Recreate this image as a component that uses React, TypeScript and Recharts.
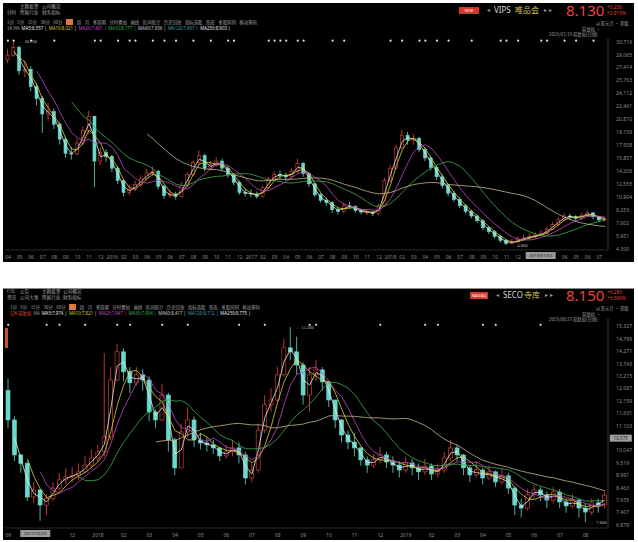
import React from 'react';
import { ComposedChart, Bar, Line, XAxis, YAxis, ReferenceDot } from 'recharts';

// ---- VIPS 唯品会, 2015-04 .. 2019-07, two bars per month ----
const vipsMonths = [
  '04', '05', '06', '07', '08', '09', '10', '11', '12',
  '2016', '02', '03', '04', '05', '06', '07', '08', '09', '10', '11', '12',
  '2017', '02', '03', '04', '05', '06', '07', '08', '09', '10', '11', '12',
  '2018', '02', '03', '04', '05', '06', '07', '08', '09', '10', '11', '12',
  '2019', '02', '03', '04', '05', '06', '07',
];
const vipsFirstOpen = 28.4;
const vipsClose = [
  29.0, 30.0, 27.0, 27.2, 25.0, 23.5, 21.5, 21.8, 20.2, 18.3,
  16.5, 16.4, 17.8, 19.4, 21.2, 15.5, 16.6, 16.1, 14.6, 13.0,
  11.5, 11.9, 12.5, 13.3, 14.0, 14.2, 12.3, 11.1, 11.3, 11.0,
  12.4, 13.8, 15.3, 16.2, 14.6, 15.0, 15.5, 14.6, 13.8, 12.8,
  11.5, 11.4, 11.3, 11.0, 12.1, 13.2, 13.8, 13.7, 13.5, 14.2,
  15.2, 13.9, 12.6, 11.2, 10.5, 10.2, 9.3, 9.1, 9.8, 9.7,
  9.2, 9.0, 9.0, 8.8, 9.8, 13.0, 14.6, 17.2, 18.8, 18.2,
  18.4, 17.0, 15.9, 14.7, 13.5, 12.4, 11.4, 10.6, 9.8, 9.1,
  8.5, 7.9, 7.0, 6.5, 5.9, 5.4, 5.0, 5.2, 5.5, 5.7,
  5.9, 6.0, 6.3, 6.8, 7.4, 8.0, 8.5, 8.4, 8.2, 8.6,
  8.9, 8.4, 8.0, 8.13,
];
const vipsHigh = [
  29.8, 30.7, 30.2, 28.3, 27.6, 25.4, 23.8, 22.9, 22.2, 20.5,
  18.6, 17.3, 18.4, 19.9, 21.9, 21.3, 17.2, 17.0, 16.3, 14.9,
  13.2, 12.5, 13.0, 13.7, 14.5, 14.8, 14.4, 12.5, 11.8, 11.6,
  12.8, 14.1, 15.6, 16.9, 16.4, 15.5, 16.0, 15.8, 14.9, 14.0,
  13.0, 12.0, 11.9, 11.6, 12.4, 13.5, 14.2, 14.3, 14.0, 14.6,
  15.8, 15.4, 14.1, 12.8, 11.4, 10.8, 10.4, 9.6, 10.2, 10.3,
  9.9, 9.4, 9.4, 9.2, 10.1, 13.4, 15.0, 17.6, 19.5, 19.2,
  19.0, 18.6, 17.3, 16.1, 14.9, 13.8, 12.6, 11.7, 10.9, 10.0,
  9.3, 8.7, 8.1, 7.2, 6.7, 6.1, 5.6, 5.6, 5.9, 6.1,
  6.3, 6.4, 6.7, 7.1, 7.7, 8.3, 8.9, 8.8, 8.6, 8.9,
  9.2, 9.0, 8.5, 8.3,
];
const vipsLow = [
  28.0, 28.8, 26.5, 26.2, 24.4, 22.6, 19.1, 20.6, 19.6, 17.6,
  15.9, 15.7, 16.2, 17.5, 19.0, 12.2, 15.0, 15.4, 14.1, 12.6,
  11.0, 11.1, 11.7, 12.2, 13.0, 13.6, 11.9, 10.7, 10.8, 10.6,
  10.9, 12.2, 13.6, 15.0, 14.2, 14.3, 14.8, 14.2, 13.4, 12.4,
  11.2, 11.0, 10.9, 10.7, 10.9, 11.9, 13.0, 13.2, 13.0, 13.3,
  14.0, 13.5, 12.2, 10.9, 10.2, 9.8, 8.9, 8.7, 8.9, 9.4,
  8.9, 8.7, 8.6, 8.5, 8.6, 9.7, 12.8, 14.4, 17.0, 17.6,
  17.6, 16.7, 15.5, 14.3, 13.1, 12.0, 11.0, 10.3, 9.5, 8.8,
  8.2, 7.6, 6.7, 6.2, 5.6, 5.1, 4.8, 4.9, 5.1, 5.3,
  5.5, 5.6, 5.9, 6.2, 6.7, 7.2, 7.8, 8.0, 7.9, 8.0,
  8.4, 8.1, 7.7, 7.8,
];
const vipsYTicks = [
  30.716, 29.065, 27.414, 25.763, 24.112, 22.461, 20.81, 19.159, 17.508,
  15.857, 14.206, 12.555, 10.904, 9.253, 7.602, 5.951, 4.3,
];
const vipsEvents = [
  0, 1, 4, 8, 15, 16, 19, 21, 22, 25, 27, 29, 32, 35, 38, 39, 45, 46, 47, 48,
  50, 51, 56, 58, 66, 68, 71, 72, 74, 76, 80, 85, 86, 88, 92, 93, 96, 98, 101,
];
const vipsLegend = [
  ['MA5:8.557', '#e6e6e6'], ['MA10:8.021', '#d8d03a'], ['MA20:7.861', '#c24ac2'],
  ['MA30:8.177', '#3fae4f'], ['MA60:7.936', '#cfcfcf'], ['MA120:7.457', '#3fa7b3'],
  ['MA250:8.903', '#e6e6e6'],
];
// crosshair date box on the time axis (it hides the month labels beneath it)
const vipsCross = { idx: 90, text: '2019/01/03', dx: -4, hide: [89, 95] };

// ---- SECO 寺库, 2017-09 .. 2019-08, four bars per month (Sep partial) ----
const secoMonths = [
  '09', '10', '11', '12',
  '2018', '02', '03', '04', '05', '06', '07', '08', '09', '10', '11', '12',
  '2019', '02', '03', '04', '05', '06', '07', '08',
];
const secoFirstOpen = 12.6;
const secoClose = [
  11.35, 9.86, 9.5, 8.07, 8.37, 7.73, 8.0, 8.45, 8.8, 8.92,
  9.0, 9.14, 9.43, 9.73, 9.99, 10.63, 13.05, 14.25, 13.4, 12.93,
  13.27, 13.05, 11.69, 11.35, 12.41, 10.5, 9.31, 10.84, 11.35, 10.5,
  10.37, 10.29, 10.16, 9.82, 9.99, 10.16, 9.86, 8.88, 9.22, 10.92,
  11.99, 12.2, 13.27, 14.42, 14.25, 13.69, 12.41, 13.27, 13.48, 12.97,
  12.2, 11.35, 10.71, 10.41, 10.16, 9.65, 9.43, 9.65, 9.86, 9.56,
  9.43, 9.22, 9.52, 9.31, 9.14, 9.39, 9.05, 9.22, 9.73, 10.16,
  9.86, 9.31, 9.01, 9.22, 8.88, 9.14, 8.71, 8.97, 8.45, 7.73,
  7.6, 8.16, 8.37, 8.16, 7.94, 8.28, 7.86, 7.69, 7.94, 7.6,
  7.43, 7.82, 7.73, 8.15,
];
const secoHigh = [
  13.1, 11.5, 9.9, 9.6, 8.7, 8.4, 8.2, 8.7, 9.1, 9.3,
  9.35, 9.5, 9.8, 10.1, 10.3, 14.2, 13.6, 14.6, 14.4, 13.6,
  13.6, 13.5, 13.2, 11.8, 12.9, 12.5, 10.6, 11.2, 11.9, 11.5,
  10.8, 10.6, 10.5, 10.2, 10.3, 10.5, 10.4, 10.0, 9.5, 11.2,
  12.4, 12.7, 13.6, 14.8, 15.3, 14.9, 13.8, 13.6, 13.9, 13.6,
  13.0, 12.2, 11.4, 10.9, 10.8, 10.2, 9.8, 9.9, 10.2, 10.0,
  9.8, 9.6, 9.8, 9.7, 9.5, 9.7, 9.5, 9.5, 10.0, 10.5,
  10.3, 9.9, 9.4, 9.6, 9.3, 9.4, 9.2, 9.3, 9.1, 8.5,
  8.0, 8.4, 8.6, 8.5, 8.3, 8.5, 8.4, 8.0, 8.2, 8.0,
  7.8, 8.0, 8.0, 8.3,
];
const secoLow = [
  11.0, 9.6, 9.1, 7.9, 7.8, 7.06, 7.3, 7.9, 8.3, 8.6,
  8.7, 8.8, 9.1, 9.3, 9.6, 9.8, 10.5, 13.0, 13.0, 12.5,
  12.8, 12.6, 11.3, 11.0, 11.3, 10.0, 9.0, 9.3, 10.6, 10.2,
  10.1, 10.0, 9.9, 9.6, 9.7, 9.8, 9.5, 8.6, 8.7, 9.1,
  10.8, 11.7, 12.1, 13.2, 13.9, 13.3, 12.0, 11.7, 13.0, 12.6,
  11.9, 11.0, 10.4, 10.1, 9.8, 9.4, 9.1, 9.3, 9.5, 9.3,
  9.1, 8.9, 9.1, 9.0, 8.8, 9.0, 8.8, 8.9, 9.1, 9.6,
  9.6, 9.0, 8.7, 8.9, 8.6, 8.8, 8.5, 8.6, 8.2, 7.3,
  7.2, 7.5, 8.0, 7.9, 7.6, 7.8, 7.6, 7.4, 7.6, 7.2,
  7.0, 7.3, 7.4, 7.6,
];
// 10.575 sits under the crosshair price box, so it is left out of the ticks
const secoYTicks = [
  15.327, 14.799, 14.271, 13.743, 13.215, 12.687, 12.159, 11.631, 11.103,
  10.047, 9.519, 8.991, 8.463, 7.935, 7.407, 6.879,
];
const secoCrossPrice = 10.575;
const secoEvents = [0, 6, 8, 12, 17, 19, 24, 28, 36, 40, 47, 48, 58, 65, 67, 74, 76, 83];
const secoLegend = [
  ['MA5:7.974', '#e6e6e6'], ['MA10:7.821', '#d8d03a'], ['MA20:7.947', '#c24ac2'],
  ['MA30:7.904', '#3fae4f'], ['MA60:8.417', '#cfcfcf'], ['MA120:9.112', '#3fa7b3'],
  ['MA250:9.775', '#e6e6e6'],
];
const secoCross = { idx: 5, text: '2017/10/23', dx: -20, hide: [1, 7] };

const UP = '#e5463e';
const DOWN = '#6ad8cc';
const AXIS = '#8c8c8c';
const FONT = '"Noto Sans", "Noto Sans CJK SC", sans-serif';
const CJK = '"Noto Sans CJK SC", "Noto Sans", sans-serif';

const movingAverage = (arr: number[], n: number) =>
  arr.map((_, i) => (i < n - 1 ? null : arr.slice(i - n + 1, i + 1).reduce((a, b) => a + b, 0) / n));

function buildRows(close: number[], high: number[], low: number[], firstOpen: number,
  labels: string[], events: number[], eventLevel: number, windows: number[]) {
  const mas = windows.map((n) => movingAverage(close, n));
  return close.map((c, i) => {
    const row: any = {
      i,
      o: i === 0 ? firstOpen : close[i - 1],
      c,
      h: high[i],
      l: low[i],
      rng: [low[i], high[i]],
      label: labels[i],
      ev: events.includes(i) ? eventLevel : null,
    };
    mas.forEach((m, k) => { row['ma' + k] = m[i]; });
    return row;
  });
}

const vipsLabels = vipsClose.map((_, i) => (i % 2 === 0 ? vipsMonths[i / 2] : ''));
const secoLabels = secoClose.map((_, i) =>
  i === 0 ? secoMonths[0] : i >= 2 && (i - 2) % 4 === 0 ? secoMonths[1 + (i - 2) / 4] : '');

const vipsRows = buildRows(vipsClose, vipsHigh, vipsLow, vipsFirstOpen, vipsLabels, vipsEvents, 30.85, [2, 3, 6, 12, 25]);
const secoRows = buildRows(secoClose, secoHigh, secoLow, secoFirstOpen, secoLabels, secoEvents, 15.4, [2, 4, 6, 12, 24]);

const maColors = ['#e6e6e6', '#d8d03a', '#c24ac2', '#3fae4f', '#c9b68c'];

const Candle = (props: any) => {
  let { x, y, width, height } = props;
  const { o, c, h, l } = props.payload;
  if (height < 0) { y += height; height = -height; }
  const k = h === l ? 0 : height / (h - l);
  const py = (v: number) => y + (h - v) * k;
  const up = c >= o;
  const col = up ? UP : DOWN;
  const cx = x + width / 2;
  const top = py(Math.max(o, c));
  const bh = Math.max(0.8, py(Math.min(o, c)) - top);
  return (
    <g>
      <line x1={cx} x2={cx} y1={y} y2={y + height} stroke={col} strokeWidth={0.8} />
      <rect x={x} y={top} width={width} height={bh} fill={up ? '#000' : col} stroke={col} strokeWidth={0.6} />
    </g>
  );
};

const MonthTick = (p: any) => {
  const idx = p.payload ? p.payload.value : -1;
  const cross = p.cross;
  if (cross && idx === cross.idx) {
    return (
      <g>
        <rect x={p.x + cross.dx} y={p.y - 6} width={30} height={7} fill="#9a9a9a" />
        <text x={p.x + cross.dx + 15} y={p.y - 0.8} textAnchor="middle" fontSize={4.3} fill="#222" fontFamily={FONT}>{cross.text}</text>
      </g>
    );
  }
  if (cross && idx >= cross.hide[0] && idx <= cross.hide[1]) return <g />;
  const s = p.labels[idx];
  if (!s) return <g />;
  return (
    <text x={p.x} y={p.y + 1} textAnchor="middle" fontSize={5} fill={AXIS} fontFamily={FONT}>{s}</text>
  );
};

const T = ({ x, y, size = 5, color = '#9a9a9a', font = CJK, children }: any) => (
  <div style={{
    position: 'absolute', left: x, top: y, fontSize: size, color, fontFamily: font, lineHeight: 1, whiteSpace: 'nowrap',
  }}>{children}</div>
);

const tabs = ['1分', '5分', '15分', '30分', '60分', '日', '周', '月', '多周期', '分时叠加', '画线', '区间统计', '历史回放', '指标选股', '形态', '多股同列', '移动筹码'];

function Header({ oy, code, name, price, chg, pct, badge, leftRows, dateText, withRed }: any) {
  const nameX = badge.x + badge.w + 16 + code.length * 5;
  return (
    <>
      {leftRows.map((row: any, r: number) => row.map((t: any, k: number) => (
        <T key={`${r}-${k}`} x={t[0]} y={oy + 1 + r * 6} size={4.6} color="#a8a8a8">{t[1]}</T>
      )))}
      <div style={{ position: 'absolute', left: withRed ? 10 : 7, top: oy + 16, display: 'flex', gap: 3.5, alignItems: 'center' }}>
        {tabs.map((t, k) => (
          <span key={k} style={{
            fontSize: 4.4, fontFamily: CJK, lineHeight: 1, color: '#a0a0a0', whiteSpace: 'nowrap',
            background: t === '日' ? '#e8702a' : 'transparent', padding: t === '日' ? '1px 1.5px' : 0,
          }}>{t}</span>
        ))}
      </div>
      <div style={{ position: 'absolute', left: withRed ? 10 : 7, top: oy + 23, display: 'flex', gap: 2, alignItems: 'center' }}>
        {withRed && <span style={{ fontSize: 4.4, color: '#e04a3a', fontFamily: CJK, lineHeight: 1 }}>日K 前复权</span>}
        <span style={{ fontSize: 4.4, color: '#a0a0a0', fontFamily: CJK, lineHeight: 1 }}>{withRed ? 'MA' : '1K  MA'}</span>
        {(withRed ? secoLegend : vipsLegend).map((m: any, k: number) => (
          <span key={k} style={{ fontSize: 4.4, color: m[1], fontFamily: FONT, lineHeight: 1, whiteSpace: 'nowrap' }}>{m[0]} |</span>
        ))}
      </div>
      <div style={{
        position: 'absolute', left: badge.x, top: oy + 4, width: badge.w, height: 7, background: '#cf3a2c',
        color: '#fff', fontSize: 3.6, fontFamily: FONT, lineHeight: '7px', textAlign: 'center',
      }}>{badge.t}</div>
      <T x={badge.x + badge.w + 8} y={oy + 4} size={6} color="#9a9a9a" font={FONT}>◂</T>
      <T x={badge.x + badge.w + 15} y={oy + 3} size={8} color="#dcdcdc" font={FONT}>{code}</T>
      <T x={nameX} y={oy + 3} size={8} color="#d4c45a">{name}</T>
      <T x={nameX + name.length * 8 + 5} y={oy + 4} size={6} color="#9a9a9a" font={FONT}>▸ ▸</T>
      <T x={566} y={oy} size={15} color="#f0403a" font={FONT}>{price}</T>
      <T x={607} y={oy + 2} size={4.8} color="#e0443a" font={FONT}>{chg}</T>
      <T x={607} y={oy + 8} size={4.8} color="#e0443a" font={FONT}>{pct}</T>
      <T x={596} y={oy + 18} size={4.4} color="#a0a0a0">以美元计 · 美股</T>
      <T x={582} y={oy + 24} size={4.4} color="#a0a0a0">前复权 ·</T>
      <T x={549} y={oy + 29} size={4.4} color="#a0a0a0">{dateText}</T>
    </>
  );
}

function KChart({ rows, domain, ticks, labels, barSize, height, top, hiIdx, loIdx, crossPrice, crossDate }: any) {
  return (
    <ComposedChart width={631} height={height} data={rows} margin={{ top, right: 0, bottom: 0, left: 2 }}>
      <XAxis dataKey="i" type="category" interval={0} height={12} axisLine={{ stroke: '#2a2a2a' }} tickLine={false}
        tick={<MonthTick labels={labels} cross={crossDate} />} />
      <YAxis orientation="right" width={26} domain={domain} ticks={ticks} interval={0} allowDataOverflow
        axisLine={{ stroke: '#3a3a3a' }} tickLine={false} tickFormatter={(v: number) => v.toFixed(3)}
        tick={{ fill: AXIS, fontSize: 5.2, fontFamily: FONT }} />
      <Bar dataKey="rng" barSize={barSize} shape={<Candle />} isAnimationActive={false} />
      {maColors.map((col, k) => (
        <Line key={k} dataKey={'ma' + k} stroke={col} strokeWidth={0.8} dot={false} isAnimationActive={false} />
      ))}
      <Line dataKey="ev" stroke="none" dot={{ r: 1.1, fill: '#e0e0e0', stroke: 'none' }} isAnimationActive={false} />
      <ReferenceDot x={hiIdx} y={rows[hiIdx].h} r={0}
        label={{ value: '← ' + rows[hiIdx].h.toFixed(3), position: 'right', fill: '#bdbdbd', fontSize: 4.6 }} />
      <ReferenceDot x={loIdx} y={rows[loIdx].l} r={0}
        label={{ value: '← ' + rows[loIdx].l.toFixed(3), position: 'right', fill: '#bdbdbd', fontSize: 4.6 }} />
      {crossPrice !== undefined && (
        <ReferenceDot x={rows.length - 1} y={crossPrice} r={0} ifOverflow="visible"
          label={(p: any) => (
            <g>
              <rect x={p.viewBox.x + 5} y={p.viewBox.y - 3.5} width={22} height={7} fill="#a0a0a0" />
              <text x={p.viewBox.x + 16} y={p.viewBox.y + 1.8} textAnchor="middle" fontSize={4.6} fill="#222" fontFamily={FONT}>
                {crossPrice.toFixed(3)}
              </text>
            </g>
          )} />
      )}
    </ComposedChart>
  );
}

const argMax = (a: number[]) => a.indexOf(Math.max(...a));
const argMin = (a: number[]) => a.indexOf(Math.min(...a));

export default function App() {
  return (
    <div style={{ position: 'absolute', left: 0, top: 0, width: 638, height: 542, background: '#fff', overflow: 'hidden' }}>
      {/* VIPS panel */}
      <div style={{ position: 'absolute', left: 3, top: 3, width: 631, height: 259, background: '#000' }}>
        <KChart rows={vipsRows} domain={[4.166, 31.19]} ticks={vipsYTicks} labels={vipsLabels} barSize={3}
          height={259} top={35} hiIdx={argMax(vipsHigh)} loIdx={argMin(vipsLow)} crossDate={vipsCross} />
      </div>
      <Header oy={3} code="VIPS" name="唯品会" price="8.130" chg="+0.230" pct="+2.915%"
        badge={{ x: 459, w: 20, t: 'NYSE' }} withRed={false}
        dateText="2019/07/19 前复权(日线)"
        leftRows={[[[20, '主题投资'], [42, '公司概况']], [[7, '分时'], [20, '所属行业'], [42, '财务指标']]]} />

      {/* SECO panel */}
      <div style={{ position: 'absolute', left: 3, top: 288, width: 631, height: 252, background: '#000', borderTop: '1.5px solid #8a8a8a', boxSizing: 'border-box' }}>
        <div style={{ position: 'absolute', left: 0, top: -1.5 }}>
          <KChart rows={secoRows} domain={[6.751, 15.69]} ticks={secoYTicks} labels={secoLabels} barSize={4}
            height={252} top={30} hiIdx={argMax(secoHigh)} loIdx={argMin(secoLow)}
            crossPrice={secoCrossPrice} crossDate={secoCross} />
        </div>
      </div>
      <div style={{ position: 'absolute', left: 5, top: 328, width: 3, height: 20, background: '#c8522c' }} />
      <Header oy={288} code="SECO" name="寺库" price="8.150" chg="+0.280" pct="+3.560%"
        badge={{ x: 470, w: 18, t: 'NASDAQ' }} withRed
        dateText="2019/08/23 前复权(日线)"
        leftRows={[[[7, 'F10'], [20, '公告'], [42, '主题投资'], [63, '公司概况']], [[7, '资讯'], [20, '公司大事'], [42, '所属行业'], [63, '财务指标']]]} />
    </div>
  );
}
